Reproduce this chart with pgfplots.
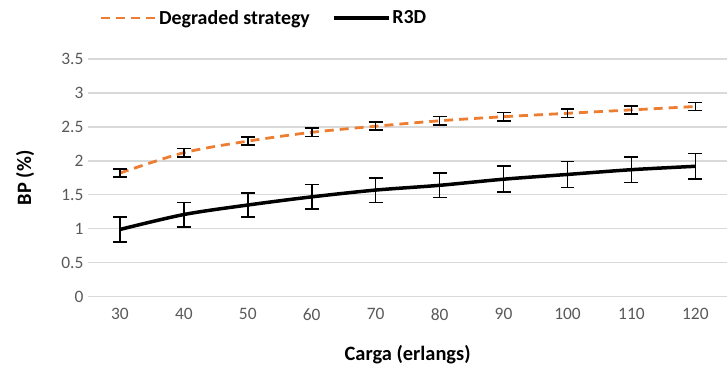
\documentclass[border=0pt]{standalone}
\usepackage{pgfplots}
\pgfplotsset{compat=1.18}
\usepackage{fontspec}
\setmainfont{Carlito}
\definecolor{orng}{HTML}{ED7D31}
\definecolor{gridc}{HTML}{D9D9D9}
\definecolor{tickc}{HTML}{595959}
\begin{document}
\begin{tikzpicture}
\begin{axis}[
  name=ax,
  scale only axis,
  width=640bp, height=238bp,
  xmin=25, xmax=125,
  ymin=0, ymax=3.5,
  xtick={30,40,...,120},
  ytick={0,0.5,...,3.5},
  yticklabels={0,0.5,1,1.5,2,2.5,3,3.5},
  ymajorgrids,
  major grid style={gridc, line width=1.3bp},
  axis line style={draw=none},
  major tick length=0pt,
  tick label style={font=\fontsize{17.5}{19}\selectfont, text=tickc},
  xticklabel style={yshift=-8bp},
  yticklabel style={xshift=-1bp},
  /pgf/number format/assume math mode=true,
  xlabel={\textbf{Carga (erlangs)}},
  ylabel={\textbf{BP (\%)}},
  every axis x label/.style={at={(rel axis cs:0.5,0)}, anchor=center, yshift=-58bp, font=\fontsize{20.5}{22}\selectfont},
  every axis y label/.style={at={(rel axis cs:0,0.5)}, anchor=center, rotate=90, yshift=63bp, font=\fontsize{20.5}{22}\selectfont},
  clip=false,
  legend style={at={(0.275,1)}, anchor=center, yshift=41bp, draw=none, fill=none,
    font=\fontsize{20}{22}\selectfont\bfseries, legend columns=2,
    /tikz/every even column/.append style={column sep=20bp}},
  legend image code/.code={\draw[#1] (0bp,0bp) -- (55bp,0bp);},
]
\addplot[orng, line width=2.8bp, dash pattern=on 9bp off 6bp, smooth,
  error bars/.cd, y dir=both, y explicit,
  error bar style={black, line width=1.6bp, solid},
  error mark options={black, line width=1.6bp, mark size=7bp, rotate=90, solid}]
coordinates {
(30,1.82) +- (0,0.06)
(40,2.12) +- (0,0.06)
(50,2.29) +- (0,0.06)
(60,2.42) +- (0,0.06)
(70,2.51) +- (0,0.06)
(80,2.59) +- (0,0.06)
(90,2.65) +- (0,0.06)
(100,2.70) +- (0,0.06)
(110,2.75) +- (0,0.06)
(120,2.80) +- (0,0.06)
};
\addlegendentry{Degraded strategy}
\addplot[black, line width=3.5bp, smooth,
  error bars/.cd, y dir=both, y explicit,
  error bar style={black, line width=1.6bp},
  error mark options={black, line width=1.6bp, mark size=7bp, rotate=90}]
coordinates {
(30,0.99) +- (0,0.18)
(40,1.21) +- (0,0.18)
(50,1.35) +- (0,0.18)
(60,1.47) +- (0,0.18)
(70,1.57) +- (0,0.18)
(80,1.64) +- (0,0.18)
(90,1.73) +- (0,0.19)
(100,1.80) +- (0,0.19)
(110,1.87) +- (0,0.19)
(120,1.92) +- (0,0.19)
};
\addlegendentry{R3D}
\end{axis}
\path[use as bounding box] (ax.south west) ++(-88bp,-70bp) rectangle ++(728bp,367bp);
\end{tikzpicture}
\end{document}
